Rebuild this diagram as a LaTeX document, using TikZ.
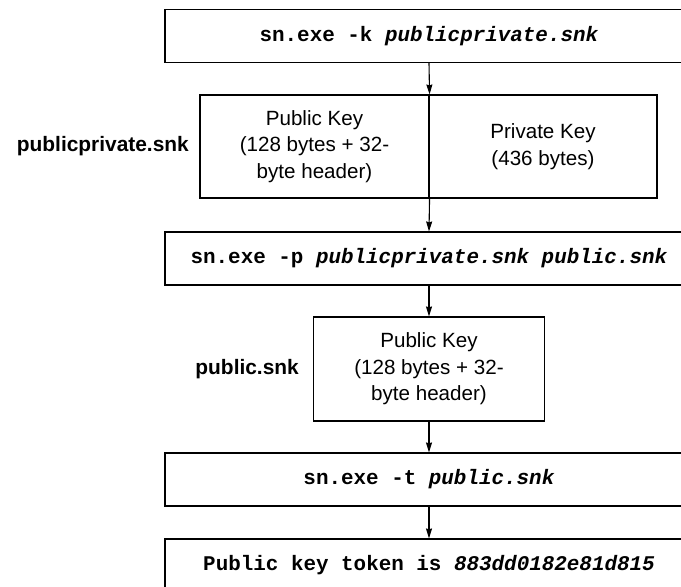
\documentclass[tikz,border=0pt]{standalone}
\usepackage{fontspec}
\setmainfont{Liberation Sans}
\setmonofont{Liberation Mono}
\usetikzlibrary{arrows.meta}
\begin{document}
\begin{tikzpicture}[x=1pt,y=-1pt,
  box/.style={draw, line width=1.1pt, inner sep=0pt},
  cmd/.style={box, minimum width=528pt, minimum height=53pt,
    font=\fontsize{20.9}{25}\selectfont\ttfamily\bfseries},
  keytext/.style={box, align=center,
    font=\fontsize{20.6}{26.5}\selectfont},
  filelabel/.style={anchor=east, inner sep=0pt,
    font=\fontsize{20.9}{25}\selectfont\bfseries},
  flow/.style={line width=1.1pt, -{Stealth[length=10pt,width=6pt,inset=1pt]}}]

  % page frame (wide command boxes run past the right and bottom edges)
  \clip (0,0) rectangle (681,587);
  \fill[white] (0,0) rectangle (681,587);

  % step 1: generate the key pair
  \node[cmd] (mkkey) at (429,36) {sn.exe -k \textit{publicprivate.snk}};

  % key pair file
  \node[keytext, minimum width=229pt, minimum height=103pt] (pubhalf) at (314.5,146.5)
    {Public Key\\(128 bytes + 32-\\byte header)};
  \node[keytext, minimum width=228pt, minimum height=103pt] (privhalf) at (543,146.5)
    {Private Key\\(436 bytes)};
  \node[filelabel] (pplabel) at (189,146.5) {publicprivate.snk};

  % step 2: extract the public key
  \node[cmd] (extract) at (429,258.5) {sn.exe -p \textit{publicprivate.snk public.snk}};

  % public key file
  \node[keytext, minimum width=231pt, minimum height=104pt] (pubfile) at (429,369)
    {Public Key\\(128 bytes + 32-\\byte header)};
  \node[filelabel] (publabel) at (299,369) {public.snk};

  % step 3: compute the token
  \node[cmd] (token) at (429,479.5) {sn.exe -t \textit{public.snk}};

  % result
  \node[cmd] (result) at (429,565.5) {Public key token is \textit{883dd0182e81d815}};

  % flow
  \draw[flow] (mkkey.south) -- (pubhalf.north east);
  \draw[flow] (pubhalf.south east) -- (extract.north);
  \draw[flow] (extract.south) -- (pubfile.north);
  \draw[flow] (pubfile.south) -- (token.north);
  \draw[flow] (token.south) -- (result.north);
\end{tikzpicture}
\end{document}
